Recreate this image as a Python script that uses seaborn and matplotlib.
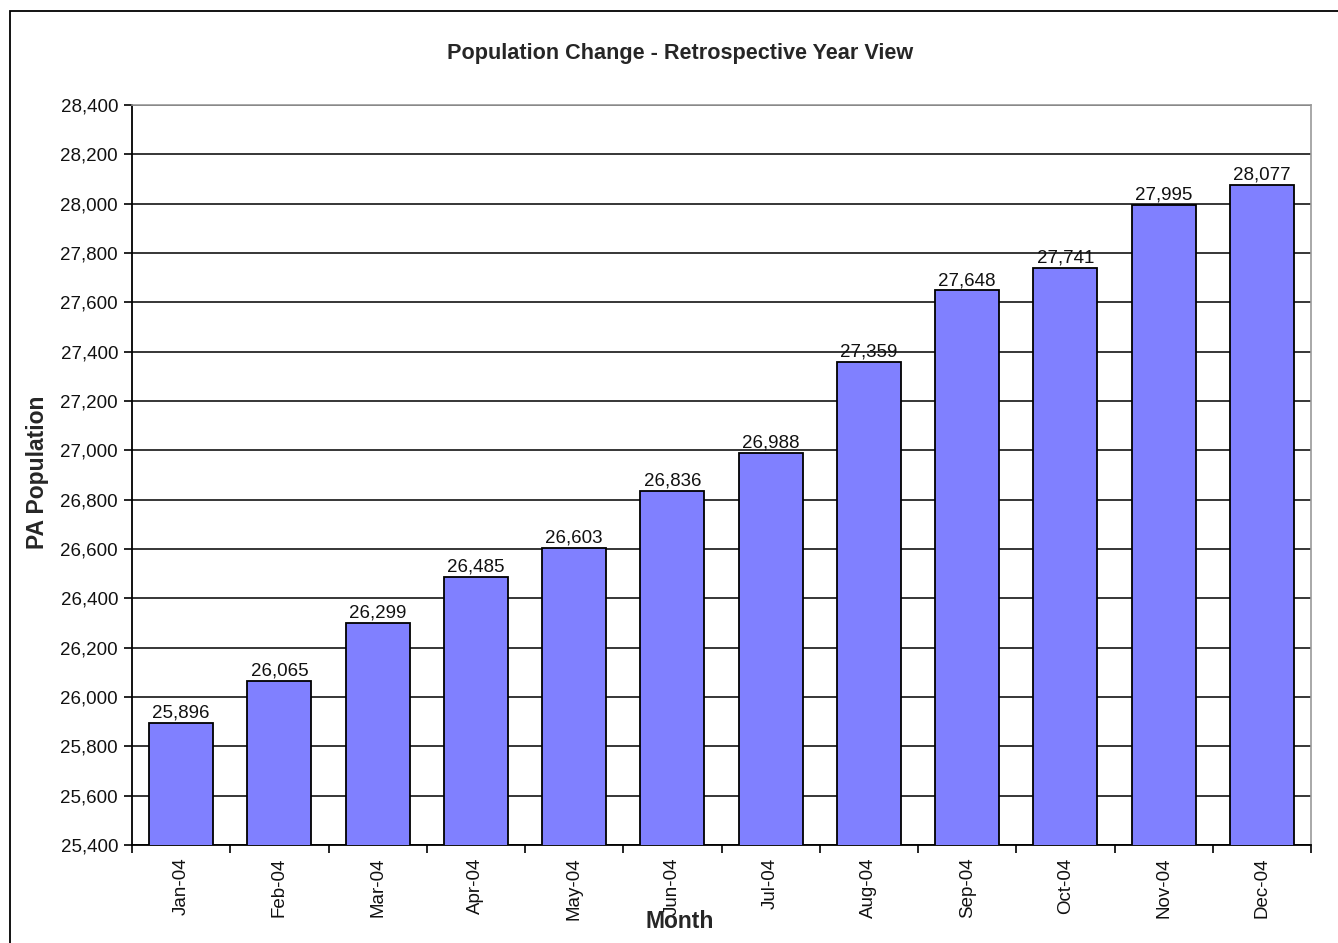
import matplotlib
matplotlib.use("Agg")
import matplotlib.pyplot as plt
import matplotlib.ticker as mticker
import seaborn as sns
import pandas as pd

months = ["Jan-04", "Feb-04", "Mar-04", "Apr-04", "May-04", "Jun-04",
          "Jul-04", "Aug-04", "Sep-04", "Oct-04", "Nov-04", "Dec-04"]
population = [25896, 26065, 26299, 26485, 26603, 26836,
              26988, 27359, 27648, 27741, 27995, 28077]
y_ticks = list(range(25400, 28401, 200))

df = pd.DataFrame({"Month": months, "Population": population})

sns.set_style("white")
plt.rcParams["font.family"] = ["Liberation Sans", "DejaVu Sans"]

fig = plt.figure(figsize=(13.38, 9.43), dpi=100)
ax = fig.add_axes([132 / 1338, 1 - 845 / 943, (1311 - 132) / 1338, (845 - 105) / 943])

sns.barplot(data=df, x="Month", y="Population", order=months, color="#8080FF",
            saturation=1, edgecolor="black", linewidth=1.3, width=0.65, ax=ax, zorder=3)

ax.set_ylim(25400, 28400)
ax.set_xlim(-0.5, len(months) - 0.5)
ax.set_yticks(y_ticks)
ax.yaxis.set_major_formatter(mticker.FuncFormatter(lambda v, p: f"{int(v):,}"))
ax.yaxis.grid(True, color="black", linewidth=1.1, zorder=0)
ax.set_axisbelow(True)

# tick marks on category boundaries, labels at centres
ax.set_xticks(range(len(months)))
ax.set_xticklabels(months, rotation=90)
ax.set_xticks([i - 0.5 for i in range(len(months) + 1)], minor=True)
ax.tick_params(axis="x", which="major", length=0, pad=9, labelsize=13.5, labelcolor="#111111")
ax.tick_params(axis="x", which="minor", length=6, width=1.2, color="black", direction="out")
ax.tick_params(axis="y", length=6, width=1.2, color="black", direction="out",
               labelsize=13.5, pad=4, labelcolor="#111111")
ax.tick_params(bottom=True, left=True, which="both")

for s in ["left", "bottom"]:
    ax.spines[s].set_color("black")
    ax.spines[s].set_linewidth(1.3)
for s in ["top", "right"]:
    ax.spines[s].set_color("#999999")
    ax.spines[s].set_linewidth(1.2)

for i, v in enumerate(population):
    ax.text(i, v + 6, f"{v:,}", ha="center", va="bottom", fontsize=13.5, color="#111111")

ax.set_xlabel("")
ax.set_ylabel("")
fig.text(680 / 1338, 1 - 922 / 943, "Month", ha="center", va="center",
         fontsize=16.5, fontweight="bold")
fig.text(38 / 1338, 1 - 472 / 943, "PA Population", ha="center", va="center",
         rotation=90, fontsize=16.5, fontweight="bold")
fig.text(680 / 1338, 1 - 54 / 943, "Population Change - Retrospective Year View",
         ha="center", va="center", fontsize=15.6, fontweight="bold")

# outer chart border
border = plt.Rectangle((10 / 1338, -0.1), 1.2, 1.1 - 11 / 943, transform=fig.transFigure,
                       fill=False, edgecolor="black", linewidth=1.3)
fig.patches.append(border)

fig.savefig("out.png", dpi=100)
